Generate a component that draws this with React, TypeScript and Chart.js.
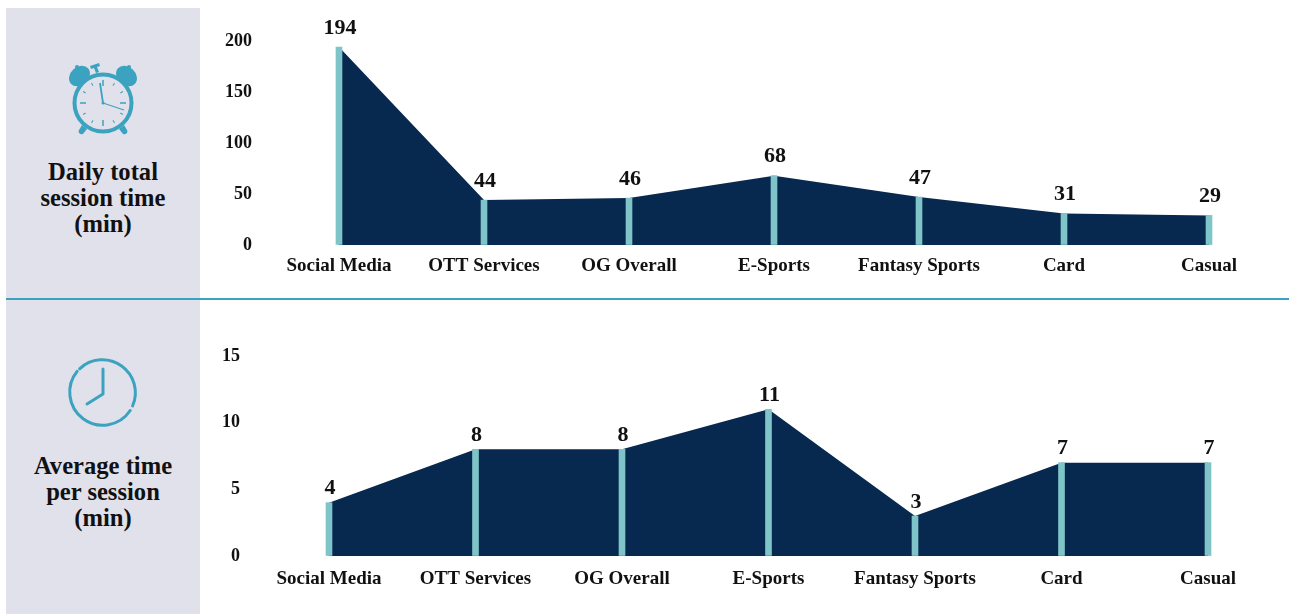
import React, { useEffect, useRef } from "react";
import { Chart, registerables } from "chart.js";

Chart.register(...registerables);

const categories = ["Social Media", "OTT Services", "OG Overall", "E-Sports", "Fantasy Sports", "Card", "Casual"];
const dailySessionMinutes = [194, 44, 46, 68, 47, 31, 29];
const averageSessionMinutes = [4, 8, 8, 11, 3, 7, 7];

const NAVY = "#07284f";
const TEAL = "#7ec4c8";
const ACCENT = "#3ba3bf";
const PANEL = "#e1e1ec";
const INK = "#111111";
const FONT = "'Liberation Serif', serif";

const valueLabels = (lift: number) => ({
  id: "valueLabels",
  afterDatasetsDraw(chart: any) {
    const { ctx } = chart;
    const meta = chart.getDatasetMeta(1);
    const values = chart.data.datasets[1].data as number[];
    ctx.save();
    ctx.font = `bold 22px ${FONT}`;
    ctx.fillStyle = INK;
    ctx.textAlign = "center";
    ctx.textBaseline = "middle";
    meta.data.forEach((bar: any, i: number) => {
      ctx.fillText(String(values[i]), bar.x + 1, bar.y - lift);
    });
    ctx.restore();
  },
});

type PanelChartProps = {
  values: number[];
  top: number;
  height: number;
  max: number;
  step: number;
  plotTop: number;
  plotLeft: number;
  plotRight: number;
  axisHeight: number;
  tickGap: number;
  labelGap: number;
  lift: number;
};

function PanelChart(p: PanelChartProps) {
  const ref = useRef<HTMLCanvasElement>(null);

  useEffect(() => {
    const chart = new Chart(ref.current as HTMLCanvasElement, {
      type: "line",
      data: {
        labels: categories,
        datasets: [
          {
            type: "line",
            data: p.values,
            backgroundColor: NAVY,
            borderWidth: 0,
            pointRadius: 0,
            tension: 0,
            fill: "origin",
            order: 2,
            clip: false,
          },
          {
            type: "bar",
            data: p.values,
            backgroundColor: TEAL,
            barThickness: 6,
            order: 1,
            clip: false,
          },
        ],
      } as any,
      options: {
        animation: false,
        responsive: false,
        layout: { padding: { top: p.plotTop, right: 1289 - p.plotRight, left: 0, bottom: 0 } },
        plugins: { legend: { display: false }, tooltip: { enabled: false } },
        scales: {
          x: {
            type: "category",
            offset: false,
            grid: { display: false },
            border: { display: false },
            afterFit: (s: any) => {
              s.height = p.axisHeight;
            },
            ticks: {
              padding: p.labelGap,
              autoSkip: false,
              maxRotation: 0,
              color: INK,
              font: { family: FONT, size: 19, weight: "bold" },
            },
          },
          y: {
            min: 0,
            max: p.max,
            grid: { display: true, drawOnChartArea: false, tickColor: "transparent", tickLength: p.tickGap },
            border: { display: false },
            afterFit: (s: any) => {
              s.width = p.plotLeft - 200;
              s.paddingTop = 0;
              s.paddingBottom = 0;
            },
            ticks: {
              stepSize: p.step,
              padding: 0,
              color: INK,
              font: { family: FONT, size: 18, weight: "bold" },
            },
          },
        },
      } as any,
      plugins: [valueLabels(p.lift)],
    });
    return () => chart.destroy();
  }, []);

  return (
    <canvas
      ref={ref}
      width={1089}
      height={p.height}
      style={{ position: "absolute", left: 200, top: p.top, width: 1089, height: p.height }}
    />
  );
}

const titleStyle: React.CSSProperties = {
  position: "absolute",
  left: 6,
  width: 194,
  textAlign: "center",
  fontFamily: FONT,
  fontWeight: "bold",
  fontSize: 24.6,
  lineHeight: "26px",
  color: INK,
};

function AlarmClock() {
  const ticks = Array.from({ length: 12 }, (_, i) => i * 30);
  return (
    <svg width={80} height={80} viewBox="63 60 80 80" style={{ position: "absolute", left: 63, top: 60 }}>
      <g fill={ACCENT}>
        <ellipse cx={79.5} cy={76} rx={11.5} ry={9} transform="rotate(-42 79.5 76)" />
        <ellipse cx={126.5} cy={76} rx={11.5} ry={9} transform="rotate(42 126.5 76)" />
        <circle cx={77} cy={67} r={2} />
        <circle cx={129} cy={67} r={2} />
        <path d="M90 66 L99 63 L100 66 L97 67 L99 72 L96 73 L94 68 L91 69 Z" />
        <path d="M82 125 L87 129 L83 134 Q81 135 79 133 Q78 131 79 130 Z" />
        <path d="M124 125 L119 129 L123 134 Q125 135 127 133 Q128 131 127 130 Z" />
      </g>
      <circle cx={103} cy={103} r={28.5} fill={PANEL} stroke={ACCENT} strokeWidth={4} />
      {ticks.map((a) => (
        <line
          key={a}
          x1={103}
          y1={a % 90 === 0 ? 80 : 80}
          x2={103}
          y2={a % 90 === 0 ? 86 : 83}
          stroke={ACCENT}
          strokeWidth={a % 90 === 0 ? 1.5 : 1}
          transform={`rotate(${a} 103 103)`}
        />
      ))}
      <path d="M103 103 L124 110" fill="none" stroke={ACCENT} strokeWidth={1.2} />
      <path d="M100 83 L103 103" fill="none" stroke={ACCENT} strokeWidth={1.8} />
      <circle cx={103} cy={103} r={1.5} fill={ACCENT} />
    </svg>
  );
}

function WallClock() {
  return (
    <svg width={80} height={80} viewBox="63 353 80 80" style={{ position: "absolute", left: 63, top: 353 }}>
      <g fill="none" stroke={ACCENT} strokeWidth={3} strokeLinecap="round">
        <path d="M130.2 410.5 A33 33 0 1 1 77.2 371.3" />
        <path d="M79.6 368.8 A33 33 0 0 1 132.6 405.9" />
        <path d="M103 369 L103 394 L87 404" strokeLinejoin="round" />
      </g>
    </svg>
  );
}

export default function App() {
  return (
    <div style={{ position: "absolute", left: 0, top: 0, width: 1289, height: 614, overflow: "hidden", background: "#fff" }}>
      <div style={{ position: "absolute", left: 6, top: 8, width: 194, height: 290, background: PANEL }} />
      <div style={{ position: "absolute", left: 6, top: 300, width: 194, height: 314, background: PANEL }} />
      <div style={{ position: "absolute", left: 6, top: 298, width: 1283, height: 2, background: ACCENT }} />
      <AlarmClock />
      <WallClock />
      <div style={{ ...titleStyle, top: 159 }}>
        Daily total
        <br />
        session time
        <br />
        (min)
      </div>
      <div style={{ ...titleStyle, top: 453 }}>
        Average time
        <br />
        per session
        <br />
        (min)
      </div>
      <PanelChart
        values={dailySessionMinutes}
        top={0}
        height={298}
        max={200}
        step={50}
        plotTop={41}
        plotLeft={339}
        plotRight={1209}
        axisHeight={53}
        tickGap={87}
        labelGap={2}
        lift={19}
      />
      <PanelChart
        values={averageSessionMinutes}
        top={300}
        height={314}
        max={15}
        step={5}
        plotTop={56}
        plotLeft={329}
        plotRight={1208}
        axisHeight={58}
        tickGap={89}
        labelGap={4}
        lift={14}
      />
    </div>
  );
}
